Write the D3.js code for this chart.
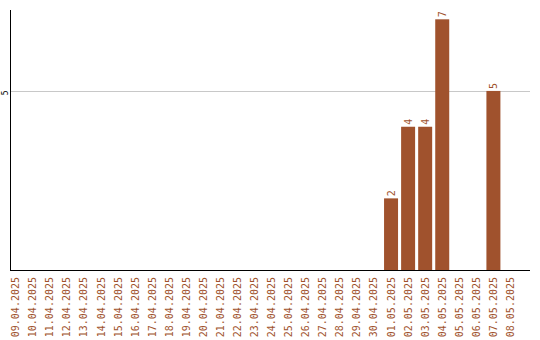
<!DOCTYPE html>
<html>
<head>
<meta charset="utf-8">
<script src="https://cdn.jsdelivr.net/npm/d3@7"></script>
<style>
  body { margin: 0; background: #fff; }
  text { font-family: "DejaVu Sans Mono", monospace; }
</style>
</head>
<body>
<div id="chart"></div>
<script>
const dates = ['09.04.2025', '10.04.2025', '11.04.2025', '12.04.2025', '13.04.2025', '14.04.2025',
               '15.04.2025', '16.04.2025', '17.04.2025', '18.04.2025', '19.04.2025', '20.04.2025',
               '21.04.2025', '22.04.2025', '23.04.2025', '24.04.2025', '25.04.2025', '26.04.2025',
               '27.04.2025', '28.04.2025', '29.04.2025', '30.04.2025', '01.05.2025', '02.05.2025',
               '03.05.2025', '04.05.2025', '05.05.2025', '06.05.2025', '07.05.2025', '08.05.2025'];
const counts = [0, 0, 0, 0, 0, 0, 0, 0, 0, 0, 0, 0, 0, 0, 0, 0, 0, 0, 0, 0, 0, 0, 2, 4, 4, 7, 0, 0, 5, 0];
const yTicks = [5];

const svgWidth = 540;
const svgHeight = 340;
const plotLeft = 10, plotRight = 530, plotTop = 10, plotBottom = 270;
const barColor = '#a0522d';

const svg = d3.select('#chart')
              .append('svg')
              .attr('width', svgWidth)
              .attr('height', svgHeight);

const x = d3.scaleBand()
            .domain(dates)
            .range([7.2, 519])
            .paddingInner(0.18)
            .paddingOuter(0.09);

const y = d3.scaleLinear()
            .domain([0, 7.26])
            .range([plotBottom, plotTop]);

// grid lines
svg.selectAll('.grid')
   .data(yTicks)
   .enter().append('line')
   .attr('x1', plotLeft)
   .attr('x2', plotRight)
   .attr('y1', d => Math.round(y(d)) + 0.5)
   .attr('y2', d => Math.round(y(d)) + 0.5)
   .attr('stroke', '#c8c8c8');

svg.selectAll('.ytick')
   .data(yTicks)
   .enter().append('text')
   .attr('transform', d => `translate(7.5,${y(d) + 2}) rotate(-90)`)
   .attr('text-anchor', 'middle')
   .attr('font-size', 8)
   .attr('fill', '#000')
   .text(d => d);

// bars
svg.selectAll('.bar')
   .data(counts)
   .enter().append('rect')
   .attr('x', (d, i) => x(dates[i]))
   .attr('y', d => y(d))
   .attr('width', x.bandwidth())
   .attr('height', d => y(0) - y(d))
   .attr('fill', barColor);

// value labels
svg.selectAll('.val')
   .data(counts.map((v, i) => ({ v, date: dates[i] })).filter(d => d.v > 0))
   .enter().append('text')
   .attr('transform', d => `translate(${x(d.date) + x.bandwidth() / 2 + 3.5},${y(d.v) - 2}) rotate(-90)`)
   .attr('font-size', 10)
   .attr('fill', barColor)
   .text(d => d.v);

// axes lines
svg.append('line')
   .attr('x1', plotLeft + 0.5).attr('x2', plotLeft + 0.5)
   .attr('y1', plotTop).attr('y2', plotBottom)
   .attr('stroke', '#000');

svg.append('line')
   .attr('x1', plotLeft).attr('x2', plotRight)
   .attr('y1', plotBottom + 0.5).attr('y2', plotBottom + 0.5)
   .attr('stroke', '#000');

// x tick labels
svg.selectAll('.xtick')
   .data(dates)
   .enter().append('text')
   .attr('transform', d => `translate(${x(d) + x.bandwidth() / 2 + 3.5},${plotBottom + 7}) rotate(-90)`)
   .attr('text-anchor', 'end')
   .attr('font-size', 10)
   .attr('fill', barColor)
   .text(d => d);
</script>
</body>
</html>
